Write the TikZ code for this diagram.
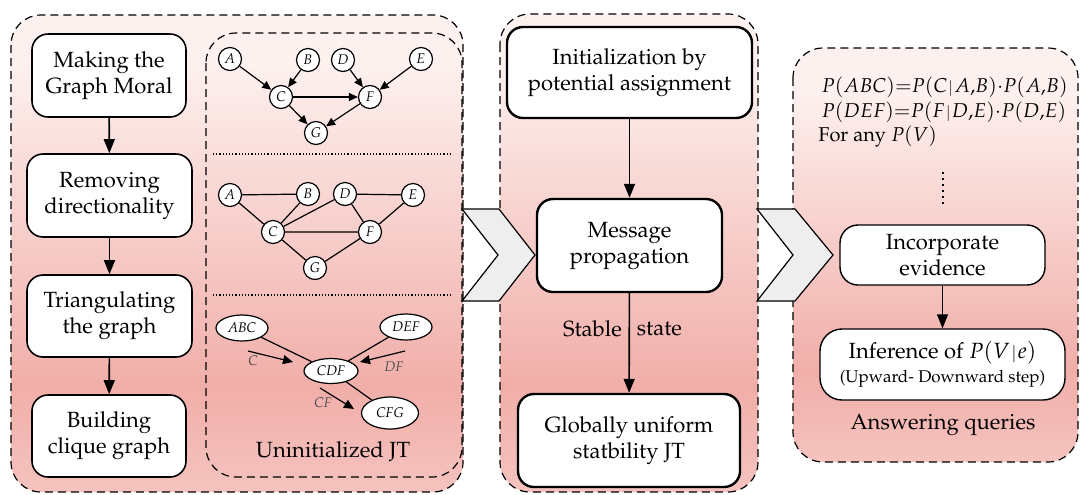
\documentclass[tikz,border=0pt]{standalone}
\usepackage[T1]{fontenc}
\usepackage{mathpazo}
\usepackage{tikz}
\usetikzlibrary{shapes.geometric}
\usetikzlibrary{positioning}
\usetikzlibrary{arrows.meta}

\definecolor{pinktop}{HTML}{FDF1EF}
\definecolor{pinkmid}{HTML}{F1AEA9}
\definecolor{pinkbot}{HTML}{F5C3BF}
\definecolor{chevgray}{HTML}{EEEEEE}
\pgfdeclareverticalshading{stageshade}{100bp}{color(0bp)=(pinkbot); color(25bp)=(pinkbot); color(36bp)=(pinkmid); color(70bp)=(pinktop); color(100bp)=(pinktop)}
\newcommand{\stepfont}{\fontsize{11}{13}\selectfont}
\newcommand{\given}{\mskip1mu{\scriptstyle|}\mskip1mu}

\begin{document}
\begin{tikzpicture}[x=0.5pt,y=-0.5pt,
	stage/.style={draw, dash pattern=on 4pt off 2.5pt, line width=0.6pt, rounded corners=15pt, shading=stageshade},
	jtframe/.style={draw, dash pattern=on 4pt off 2.5pt, line width=0.6pt, rounded corners=15pt},
	stepbox/.style={rectangle, draw, fill=white, rounded corners=8pt, line width=0.8pt, align=center, font=\stepfont, inner sep=1pt},
	jtbox/.style={stepbox, line width=1.2pt},
	qbox/.style={stepbox, line width=0.7pt},
	var/.style={circle, draw, fill=white, inner sep=0pt, minimum size=11.5pt, line width=0.6pt, font=\fontsize{7}{8}\selectfont\itshape},
	clq/.style={ellipse, draw, fill=white, inner sep=0pt, minimum width=26pt, minimum height=13pt, line width=0.6pt, font=\fontsize{7}{8}\selectfont\itshape},
	arr/.style={-{Triangle[length=7pt,width=5.5pt]}, line width=0.8pt},
	dirarr/.style={-{Triangle[length=4.5pt,width=4pt]}, line width=0.6pt},
	msgarr/.style={-{Triangle[length=5pt,width=4.5pt]}, line width=0.6pt},
	msglab/.style={font=\fontsize{7}{8}\selectfont\itshape, text=black!70},
	chev/.style={draw, fill=chevgray, line width=0.6pt}]
	\useasboundingbox (0,0) rectangle (1081,494);

	\draw[stage] (11,15) rectangle (463,492);
	\draw[stage] (500,14) rectangle (758,492);
	\draw[stage] (793,48) rectangle (1078,462);
	\draw[jtframe] (206,33) rectangle (462,477);

	\node[stepbox, minimum width=77pt, minimum height=41.5pt] (moral) at (109,75.5) {Making the\\Graph Moral};
	\node[stepbox, minimum width=82.5pt, minimum height=41.5pt] (direct) at (109.5,195.5) {Removing\\directionality};
	\node[stepbox, minimum width=82.5pt, minimum height=41pt] (triang) at (109.5,316) {Triangulating\\the graph};
	\node[stepbox, minimum width=77pt, minimum height=41pt] (clique) at (109,436) {Building\\clique graph};
	\draw[arr] (moral) -- (direct);
	\draw[arr] (direct) -- (triang);
	\draw[arr] (triang) -- (clique);

	\node[var] (A1) at (230,59) {A};
	\node[var] (B1) at (308,60) {B};
	\node[var] (D1) at (343,60) {D};
	\node[var] (E1) at (421,59) {E};
	\node[var] (C1) at (281,97) {C};
	\node[var] (F1) at (370,97) {F};
	\node[var] (G1) at (316,133) {G};
	\draw[dirarr] (A1) -- (C1);
	\draw[dirarr] (B1) -- (C1);
	\draw[dirarr] (D1) -- (F1);
	\draw[dirarr] (E1) -- (F1);
	\draw[dirarr] (C1) -- (F1);
	\draw[dirarr] (C1) -- (G1);
	\draw[dirarr] (F1) -- (G1);

	\draw[densely dotted, line width=0.6pt] (213,154) -- (450,154);

	\node[var] (A2) at (230,195) {A};
	\node[var] (B2) at (308,194) {B};
	\node[var] (D2) at (345,194) {D};
	\node[var] (E2) at (413,195) {E};
	\node[var] (C2) at (273,232) {C};
	\node[var] (F2) at (370,232) {F};
	\node[var] (G2) at (315,268) {G};
	\draw[line width=0.6pt] (A2) -- (B2) (A2) -- (C2) (B2) -- (C2) (C2) -- (D2) (D2) -- (E2)
		(D2) -- (F2) (E2) -- (F2) (C2) -- (F2) (C2) -- (G2) (F2) -- (G2);

	\draw[densely dotted, line width=0.6pt] (213,295) -- (450,295);

	\node[clq] (abc) at (242,328) {ABC};
	\node[clq] (def) at (406,327) {DEF};
	\node[clq, minimum width=27pt, minimum height=12.5pt] (cdf) at (331,371) {CDF};
	\node[clq, minimum width=28.5pt, minimum height=16pt] (cfg) at (390,413) {CFG};
	\draw[line width=0.6pt] (abc) -- (cdf) (def) -- (cdf) (cdf) -- (cfg);
	\coordinate (c0) at (248,351);
	\coordinate (c1) at (293,362);
	\coordinate (df0) at (405,351);
	\coordinate (df1) at (360,362);
	\coordinate (cf0) at (320,388);
	\coordinate (cf1) at (354,409);
	\draw[msgarr] (c0) -- (c1);
	\draw[msgarr] (df0) -- (df1);
	\draw[msgarr] (cf0) -- (cf1);
	\node[msglab] (lc) at (253,361) {C};
	\node[msglab] (ldf) at (394,367) {DF};
	\node[msglab] (lcf) at (323,403) {CF};
	\node[font=\stepfont] (unjt) at (333,452) {Uninitialized JT};

	\node[jtbox, minimum width=122.5pt, minimum height=45.5pt] (init) at (629.5,72.5) {Initialization by\\potential assignment};
	\node[jtbox, minimum width=92.5pt, minimum height=46.5pt] (msg) at (629.5,245.5) {Message\\propagation};
	\node[jtbox, minimum width=111pt, minimum height=46.5pt] (glob) at (629,440.5) {Globally uniform\\statbility JT};
	\draw[arr] (init) -- (msg);
	\draw[arr] (msg) -- node[pos=0.36, left, font=\stepfont] {Stable} node[pos=0.36, right, font=\stepfont] {state} (glob);

	\draw[chev] (462,209) -- (499,209) -- (535,255) -- (499,301) -- (462,301) -- (498,255) -- cycle;
	\draw[chev] (757,209) -- (795,209) -- (833,255) -- (795,301) -- (757,301) -- (793,255) -- cycle;

	\node[anchor=west, align=left, font=\fontsize{10}{12.25}\selectfont, inner sep=0pt] (probs) at (818,112)
		{\,$P(ABC){=}P(C\given A{,}B){\cdot}P(A{,}B)$\\\,$P(DEF){=}P(F\given D{,}E){\cdot}P(D{,}E)$\\For any $P(V)$};
	\draw[line width=1.1pt, dash pattern=on 1.1pt off 1.9pt] (943,172) -- (943,204);
	\node[qbox, minimum width=102.5pt, minimum height=30pt, rounded corners=9pt] (evid) at (942.5,255) {Incorporate\\evidence};
	\node[qbox, minimum width=122.5pt, minimum height=35.5pt, rounded corners=11pt] (infer) at (942.5,364.5)
		{Inference of $P(V\given e)$\\[-1pt]{\fontsize{8.5}{10}\selectfont (Upward- Downward step)}};
	\draw[arr] (evid) -- (infer);
	\node[font=\stepfont] (answer) at (943,425) {Answering queries};
\end{tikzpicture}
\end{document}
